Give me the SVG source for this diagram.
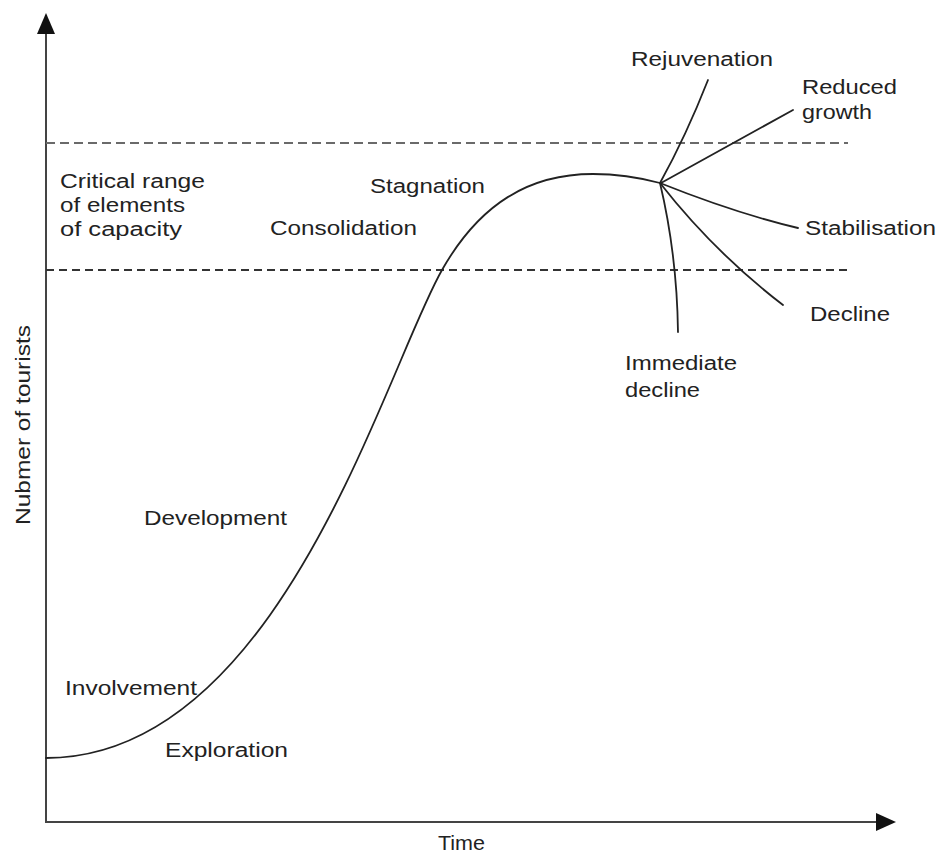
<svg xmlns="http://www.w3.org/2000/svg" width="941" height="854" viewBox="0 0 941 854">
<style>
.lbl{font-family:"Liberation Sans",Arial,sans-serif;font-size:20px;fill:#222}
.ax{stroke:#444;stroke-width:2;fill:none}
.crv{stroke:#222;stroke-width:1.8;fill:none;stroke-linecap:round}
.dash1{stroke:#6a6a6a;stroke-width:1.8;stroke-dasharray:9 5}
.dash2{stroke:#333;stroke-width:1.8;stroke-dasharray:8 5}
</style>
<rect width="941" height="854" fill="#ffffff"/>
<g id="axes">
<line class="ax" x1="46" y1="30" x2="46" y2="822"/>
<line class="ax" x1="45" y1="822" x2="880" y2="822"/>
<polygon points="46,13 37,34 55,34" fill="#111"/>
<polygon points="896,822 876,813 876,831" fill="#111"/>
</g>
<g id="capacity-range">
<line class="dash1" x1="46" y1="143" x2="848" y2="143"/>
<line class="dash2" x1="46" y1="270" x2="848" y2="270"/>
</g>
<g id="connectors">
<path id="lifecycle-curve" class="crv" d="M46,758 C280,758 385,369.5 442,270 C480,203 530,174 593,174 C620,174 645,179 660,183"/>
<path id="br-rejuvenation" class="crv" d="M660,183 Q686,136 708,80"/>
<path id="br-reduced" class="crv" d="M661,183 L793,110"/>
<path id="br-stabilisation" class="crv" d="M660,183 Q735,213 798,228"/>
<path id="br-decline" class="crv" d="M660,183 Q714,252 783,305"/>
<path id="br-immediate" class="crv" d="M660,183 Q677,255 678,332"/>
</g>
<g id="label-critical">
<text class="lbl" x="60" y="188" textLength="145" lengthAdjust="spacingAndGlyphs">Critical range</text>
<text class="lbl" x="60" y="212" textLength="125" lengthAdjust="spacingAndGlyphs">of elements</text>
<text class="lbl" x="60" y="236" textLength="122" lengthAdjust="spacingAndGlyphs">of capacity</text>
</g>
<g id="label-stagnation"><text class="lbl" x="370" y="193" textLength="115" lengthAdjust="spacingAndGlyphs">Stagnation</text></g>
<g id="label-consolidation"><text class="lbl" x="270" y="235" textLength="147" lengthAdjust="spacingAndGlyphs">Consolidation</text></g>
<g id="label-development"><text class="lbl" x="144" y="525" textLength="143" lengthAdjust="spacingAndGlyphs">Development</text></g>
<g id="label-involvement"><text class="lbl" x="65" y="695" textLength="132" lengthAdjust="spacingAndGlyphs">Involvement</text></g>
<g id="label-exploration"><text class="lbl" x="165" y="757" textLength="123" lengthAdjust="spacingAndGlyphs">Exploration</text></g>
<g id="label-rejuvenation"><text class="lbl" x="631" y="66" textLength="142" lengthAdjust="spacingAndGlyphs">Rejuvenation</text></g>
<g id="label-reduced">
<text class="lbl" x="802" y="94" textLength="95" lengthAdjust="spacingAndGlyphs">Reduced</text>
<text class="lbl" x="802" y="119" textLength="70" lengthAdjust="spacingAndGlyphs">growth</text>
</g>
<g id="label-stabilisation"><text class="lbl" x="805" y="235" textLength="131" lengthAdjust="spacingAndGlyphs">Stabilisation</text></g>
<g id="label-decline"><text class="lbl" x="810" y="321" textLength="80" lengthAdjust="spacingAndGlyphs">Decline</text></g>
<g id="label-immediate">
<text class="lbl" x="625" y="370" textLength="112" lengthAdjust="spacingAndGlyphs">Immediate</text>
<text class="lbl" x="625" y="397" textLength="75" lengthAdjust="spacingAndGlyphs">decline</text>
</g>
<g id="label-time"><text class="lbl" x="438" y="850" textLength="47" lengthAdjust="spacingAndGlyphs">Time</text></g>
<g id="label-yaxis"><text class="lbl" transform="translate(30,425) rotate(-90)" text-anchor="middle" textLength="200" lengthAdjust="spacingAndGlyphs">Nubmer of tourists</text></g>
</svg>
